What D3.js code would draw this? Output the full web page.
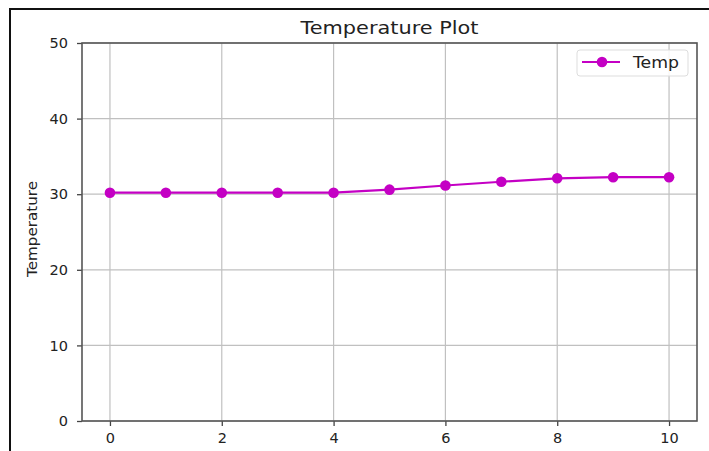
<!DOCTYPE html>
<html lang="en">
<head>
    <meta charset="UTF-8">
    <title>Temperature Plot</title>
    <style>
        body { margin: 0; background: #fff; }
        svg { display: block; font-family: "DejaVu Sans", sans-serif; }
    </style>
    <script src="https://d3js.org/d3.v7.min.js"></script>
</head>
<body>
<script>
    // data
    const hours = [0, 1, 2, 3, 4, 5, 6, 7, 8, 9, 10]
    const temps = [30.2, 30.2, 30.2, 30.2, 30.2, 30.6, 31.15, 31.65, 32.1, 32.25, 32.25]
    const xTicks = [0, 2, 4, 6, 8, 10]
    const yTicks = [0, 10, 20, 30, 40, 50]
    const seriesName = "Temp"

    const width = 709, height = 451
    const plotLeft = 82, plotRight = 697, plotTop = 43, plotBottom = 421
    const color = "#c400c4"

    const svg = d3.select("body").append("svg")
        .attr("width", width).attr("height", height)

    // outer frame (cut off at right/bottom like the picture)
    svg.append("rect")
        .attr("x", 10).attr("y", 9)
        .attr("width", 720).attr("height", 460)
        .attr("fill", "none").attr("stroke", "#111").attr("stroke-width", 2)

    const x = d3.scaleLinear().domain([-0.5, 10.5]).range([plotLeft, plotRight])
    const y = d3.scaleLinear().domain([0, 50]).range([plotBottom, plotTop])

    // grid
    svg.append("g").selectAll("line").data(xTicks).enter().append("line")
        .attr("x1", d => x(d)).attr("x2", d => x(d))
        .attr("y1", plotTop).attr("y2", plotBottom)
        .attr("stroke", "#c0c0c0").attr("stroke-width", 1.2)
    svg.append("g").selectAll("line").data(yTicks).enter().append("line")
        .attr("y1", d => y(d)).attr("y2", d => y(d))
        .attr("x1", plotLeft).attr("x2", plotRight)
        .attr("stroke", "#c0c0c0").attr("stroke-width", 1.2)

    // axes
    const xAxis = svg.append("g")
        .attr("transform", `translate(0,${plotBottom})`)
        .call(d3.axisBottom(x).tickValues(xTicks).tickSize(5).tickPadding(7).tickSizeOuter(0))
    const yAxis = svg.append("g")
        .attr("transform", `translate(${plotLeft},0)`)
        .call(d3.axisLeft(y).tickValues(yTicks).tickSize(5).tickPadding(9).tickSizeOuter(0))
    for (const ax of [xAxis, yAxis]) {
        ax.select(".domain").remove()
        ax.selectAll("line").attr("stroke", "#444").attr("stroke-width", 1.3)
        ax.selectAll("text").attr("fill", "#222").style("font-size", "14.5px")
            .attr("font-family", "DejaVu Sans, sans-serif")
    }

    // spines
    svg.append("rect")
        .attr("x", plotLeft).attr("y", plotTop)
        .attr("width", plotRight - plotLeft).attr("height", plotBottom - plotTop)
        .attr("fill", "none").attr("stroke", "#555").attr("stroke-width", 1.6)

    // series
    const line = d3.line().x((d, i) => x(hours[i])).y(d => y(d))
    svg.append("path").datum(temps)
        .attr("d", line)
        .attr("fill", "none").attr("stroke", color).attr("stroke-width", 2.2)
    svg.append("g").selectAll("circle").data(temps).enter().append("circle")
        .attr("cx", (d, i) => x(hours[i])).attr("cy", d => y(d))
        .attr("r", 5.3).attr("fill", color)

    // title and label
    svg.append("text")
        .attr("x", (plotLeft + plotRight) / 2).attr("y", 34)
        .attr("text-anchor", "middle")
        .attr("textLength", 178).attr("lengthAdjust", "spacingAndGlyphs")
        .attr("fill", "#222").style("font-size", "18px")
        .text("Temperature Plot")
    svg.append("text")
        .attr("transform", `translate(37,229) rotate(-90)`)
        .attr("text-anchor", "middle")
        .attr("textLength", 96).attr("lengthAdjust", "spacingAndGlyphs")
        .attr("fill", "#222").style("font-size", "14px")
        .text("Temperature")

    // legend
    const lg = svg.append("g")
    lg.append("rect")
        .attr("x", 577).attr("y", 50).attr("width", 111).attr("height", 26)
        .attr("rx", 3).attr("fill", "#fff").attr("fill-opacity", 0.85)
        .attr("stroke", "#ddd")
    lg.append("line")
        .attr("x1", 582).attr("x2", 620).attr("y1", 62).attr("y2", 62)
        .attr("stroke", color).attr("stroke-width", 2.2)
    lg.append("circle").attr("cx", 602).attr("cy", 62).attr("r", 5.3).attr("fill", color)
    lg.append("text")
        .attr("x", 633).attr("y", 68)
        .attr("textLength", 46).attr("lengthAdjust", "spacingAndGlyphs")
        .attr("fill", "#222").style("font-size", "15px")
        .text(seriesName)
</script>
</body>
</html>
